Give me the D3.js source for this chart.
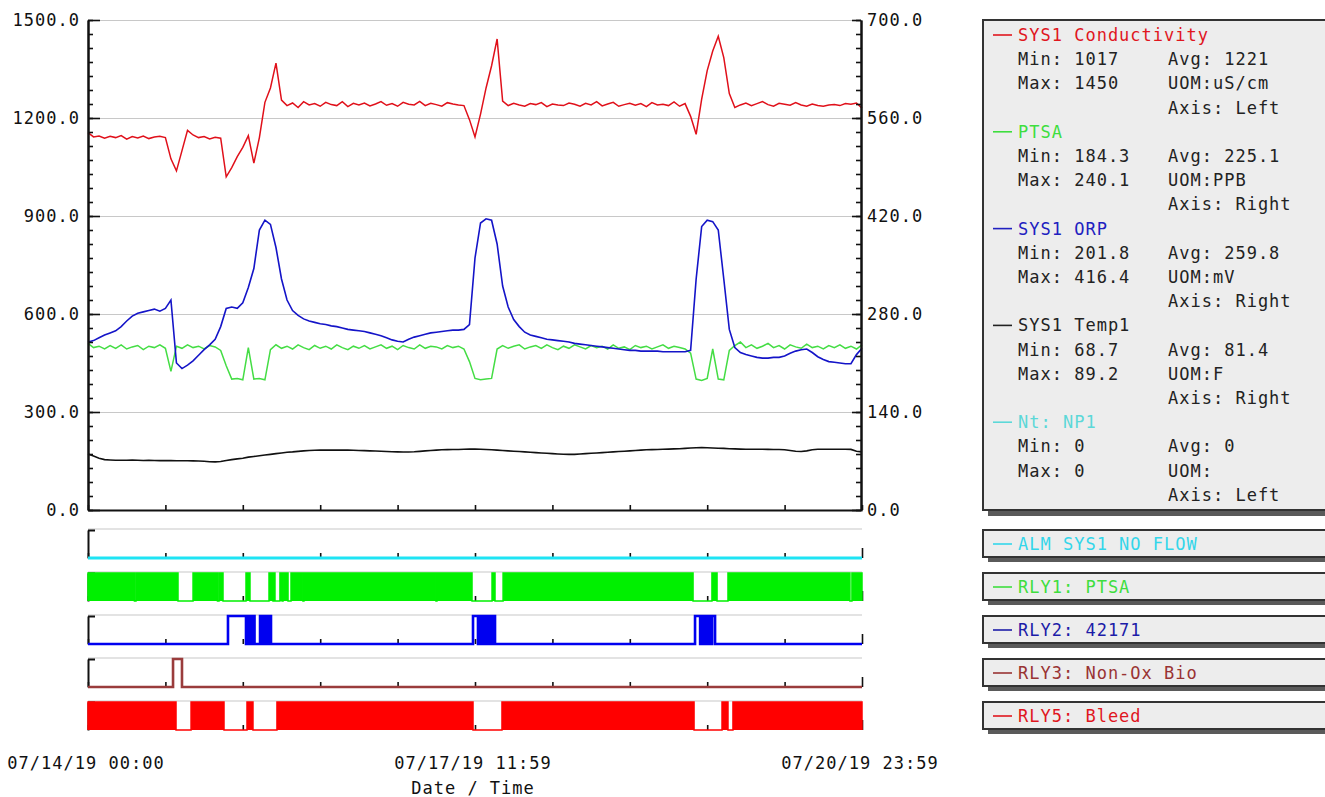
<!DOCTYPE html>
<html><head><meta charset="utf-8">
<script src="https://cdn.jsdelivr.net/npm/d3@7"></script>
<style>body{margin:0;background:#fff}svg{display:block}text{font-family:"DejaVu Sans Mono",monospace;}</style>
</head><body><svg id="c" width="1325" height="797"></svg>
<script>
// ---------- data ----------
const startTime = new Date(2019, 6, 14, 0, 0);
const sampleStepDays = 0.05; // one sample every 72 minutes
const xLabels = ["07/14/19 00:00", "07/17/19 11:59", "07/20/19 23:59"];
const xLabelDays = [0, 3.5, 7];
const xTitle = "Date / Time";
const leftTicks = [0, 300, 600, 900, 1200, 1500];
const rightTicks = [0, 140, 280, 420, 560, 700];

const conductivity = [1155,1142,1145,1138,1144,1140,1146,1135,1143,1139,1145,1137,1142,1144,1140,1075,1038,1100,1162,1148,
1140,1143,1136,1141,1138,1020,1048,1082,1110,1146,1062,1140,1248,1292,1368,1255,1238,1246,1232,1250,
1240,1244,1236,1248,1241,1238,1250,1235,1245,1240,1246,1237,1243,1250,1239,1244,1236,1248,1242,1240,
1251,1238,1245,1241,1236,1247,1243,1240,1238,1195,1142,1212,1292,1360,1442,1252,1238,1245,1240,1236,
1244,1241,1247,1235,1243,1240,1238,1246,1242,1236,1245,1240,1250,1237,1243,1248,1236,1241,1245,1239,
1244,1235,1247,1240,1242,1238,1249,1236,1244,1205,1150,1258,1345,1405,1450,1385,1275,1232,1240,1246,
1238,1244,1250,1241,1236,1245,1242,1239,1247,1240,1236,1243,1238,1236,1240,1241,1238,1244,1242,1246,1230];

const ptsa = [238,232,234,230,235,231,236,230,233,235,229,234,232,236,231,198,234,231,236,232,
234,230,235,233,228,206,187,188,186,232,187,188,186,229,236,231,234,230,236,232,
229,235,231,234,230,236,232,229,234,231,235,230,233,236,231,234,229,235,232,230,
236,231,234,233,230,235,232,234,230,212,188,186,187,188,230,235,231,234,236,230,
233,235,231,236,232,229,234,231,236,233,230,235,232,234,230,236,231,233,229,235,
232,234,230,233,236,231,234,232,230,224,187,185,188,230,187,186,228,235,240,232,
236,231,234,238,232,235,230,236,233,231,237,232,234,230,235,232,236,231,234,230,236];

const orp = [240,242,246,250,253,256,262,270,277,281,283,285,287,284,288,300,210,202,207,213,
221,229,236,244,262,288,290,288,296,318,345,400,414,408,375,330,300,285,278,273,
270,268,266,265,263,262,260,258,257,256,255,253,251,249,246,243,241,240,244,247,
249,251,253,254,255,256,257,257,258,265,360,410,416,414,380,320,290,272,262,254,
250,248,246,244,243,242,241,240,238,237,236,235,234,233,232,231,230,229,228,228,
227,227,227,227,226,226,226,226,226,228,330,405,414,412,400,330,258,232,225,222,
220,218,217,217,218,218,220,224,227,229,230,225,219,215,212,211,210,209,209,222,231];

const temp1 = [80,77,74,72,71.5,71,71,71,71.2,71,70.8,71,70.8,70.6,70.6,70.5,70.4,70.4,70.3,70.2,
70,69.6,69,68.7,69.2,70.8,72,73,74,75.5,76.5,77.5,78.5,79.5,80.5,81.5,82.5,83,83.8,84.5,
85,85.3,85.5,85.5,85.5,85.6,85.5,85.5,85.3,85,84.8,84.5,84.2,84,83.6,83.3,83,82.8,82.8,83.2,
83.8,84.5,85,85.5,86,86.2,86.5,86.5,86.7,87,87,86.8,86.5,86,85.5,85,84.5,84,83.5,83,
82.5,82,81.5,81,80.5,80,79.6,79.4,79.5,80,80.5,81,81.5,82,82.5,83,83.5,84,84.5,85,
85.5,86,86.3,86.5,86.8,87,87.3,87.6,88,88.5,89,89.2,89,88.6,88.2,88,87.6,87.3,87,86.8,
86.8,86.8,86.8,86.6,86.5,86.5,86,85,84,83.5,84.5,86,86.8,86.8,86.8,86.8,86.8,86.8,86.6,84,83];

// digital channels: ON intervals [startDay, endDay]
const almNoFlowOn = [];
const rly1On = [[0,0.420],[0.434,0.814],[0.950,1.171],[1.185,1.221],[1.429,1.465],[1.637,1.673],[1.682,1.691],
  [1.736,1.755],[1.764,1.809],[1.836,1.944],[1.953,3.147],[3.156,3.473],[3.654,3.681],[3.754,5.472],
  [5.643,5.689],[5.788,6.891],[6.909,7]];
const rly2On = [[1.266,1.429],[1.443,1.456],[1.470,1.483],[1.492,1.506],[1.556,1.574],[1.583,1.596],[1.605,1.619],
  [1.628,1.641],[1.646,1.655],
  [3.482,3.527],[3.536,3.550],[3.559,3.572],[3.581,3.595],[3.604,3.618],[3.627,3.640],[3.649,3.663],[3.672,3.681],
  [5.490,5.536],[5.545,5.558],[5.567,5.581],[5.590,5.603],[5.612,5.626],[5.644,5.671]];
const rly3On = [[0.769,0.850]];
const rly5On = [[0,0.796],[0.932,1.230],[1.438,1.492],[1.709,3.482],[3.744,5.481],[5.734,5.788],[5.833,7]];

const legendSeries = [
  {name:"SYS1 Conductivity", color:"#e0161e", min:"1017", max:"1450", avg:"1221", uom:"uS/cm", axis:"Left"},
  {name:"PTSA", color:"#3ede3e", min:"184.3", max:"240.1", avg:"225.1", uom:"PPB", axis:"Right"},
  {name:"SYS1 ORP", color:"#2020c0", min:"201.8", max:"416.4", avg:"259.8", uom:"mV", axis:"Right"},
  {name:"SYS1 Temp1", color:"#222222", min:"68.7", max:"89.2", avg:"81.4", uom:"F", axis:"Right"},
  {name:"Nt: NP1", color:"#5cd8d8", min:"0", max:"0", avg:"0", uom:"", axis:"Left"}
];
const stripNames = ["ALM SYS1 NO FLOW","RLY1: PTSA","RLY2: 42171","RLY3: Non-Ox Bio","RLY5: Bleed"];
const stripTextColors = ["#33d6ea","#3ede3e","#1c1ca8","#993333","#e0161e"];

// ---------- drawing ----------
const svg = d3.select('#c');
svg.append('rect').attr('width',1325).attr('height',797).attr('fill','#fff');
const dayMs = 864e5;
const tAt = d => new Date(+startTime + d*dayMs);
const x = d3.scaleTime().domain([startTime, tAt(7)]).range([88, 862]);
const yL = d3.scaleLinear().domain([0,1500]).range([510,20]);
const yR = d3.scaleLinear().domain([0,700]).range([510,20]);
const xTickVals = d3.range(0, 11).map(k => tAt(k*0.7));
const fontSize = 17, letterSp = 1;

function styleText(sel){ sel.attr('font-family','"DejaVu Sans Mono",monospace').attr('font-size',fontSize).attr('letter-spacing',letterSp).attr('fill','#111'); }

// gridlines
svg.append('g').attr('transform','translate(88,0)')
  .call(d3.axisLeft(yL).tickValues(leftTicks).tickSize(-773).tickFormat(''))
  .call(g=>{g.select('.domain').remove(); g.selectAll('line').attr('stroke','#c8c8c8').attr('stroke-width',1.2);});

// series lines
const lineOf = (scale) => d3.line().x((d,i)=>x(tAt(i*sampleStepDays))).y(d=>scale(d));
const plot = svg.append('g');
plot.append('path').datum(temp1).attr('d',lineOf(yR)).attr('fill','none').attr('stroke','#111').attr('stroke-width',1.6);
plot.append('path').datum(ptsa).attr('d',lineOf(yR)).attr('fill','none').attr('stroke','#44dd44').attr('stroke-width',1.5);
plot.append('path').datum(orp).attr('d',lineOf(yR)).attr('fill','none').attr('stroke','#1414c8').attr('stroke-width',1.6);
plot.append('path').datum(conductivity).attr('d',lineOf(yL)).attr('fill','none').attr('stroke','#e0101a').attr('stroke-width',1.5);

// left axis
const gl = svg.append('g').attr('transform','translate(88,0)');
gl.call(d3.axisLeft(yR).tickValues(d3.range(0,701,20)).tickSizeInner(-5).tickSizeOuter(0).tickFormat(''));
gl.append('g').call(d3.axisLeft(yL).tickValues(leftTicks).tickSizeInner(-12).tickSizeOuter(0).tickPadding(8).tickFormat(d3.format('.1f')));
gl.selectAll('line').attr('stroke','#111').attr('stroke-width',1.6);
gl.selectAll('.domain').attr('stroke','#111').attr('stroke-width',2);
gl.selectAll('text').call(styleText).attr('dy','0.35em');

// right axis
const gr = svg.append('g').attr('transform','translate(861,0)');
gr.call(d3.axisRight(yR).tickValues(d3.range(0,701,20)).tickSizeInner(-5).tickSizeOuter(0).tickFormat(''));
gr.append('g').call(d3.axisRight(yR).tickValues(rightTicks).tickSizeInner(-9).tickSizeOuter(0).tickPadding(6).tickFormat(d3.format('.1f')));
gr.selectAll('line').attr('stroke','#111').attr('stroke-width',1.6);
gr.selectAll('.domain').attr('stroke','#111').attr('stroke-width',2);
gr.selectAll('text').call(styleText).attr('dy','0.35em');

// bottom axis
const gb = svg.append('g').attr('transform','translate(0,510)');
gb.call(d3.axisBottom(x).tickValues(xTickVals).tickSizeInner(-5).tickSizeOuter(0).tickFormat(''));
gb.selectAll('line').attr('stroke','#111').attr('stroke-width',1.6);
gb.select('.domain').attr('stroke','#111').attr('stroke-width',2);

// strips
const strips = [
  {on: almNoFlowOn, color:'#1ee4f4', fill:false, w:3},
  {on: rly1On, color:'#00f000', fill:true, w:1.5},
  {on: rly2On, color:'#0000f0', fill:false, w:2.6},
  {on: rly3On, color:'#9a3c3c', fill:false, w:2.6},
  {on: rly5On, color:'#ff0000', fill:true, w:1.5}
];
const stripTop0 = 529, stripGap = 43, stripH = 29;
function stepPoints(intervals){
  const pts=[[0,0]];
  intervals.forEach(([a,b])=>{pts.push([a,0],[a,1],[b,1],[b,0]);});
  pts.push([7,0]); return pts;
}
strips.forEach((s,k)=>{
  const top = stripTop0 + k*stripGap, bot = top + stripH;
  const yS = d3.scaleLinear().domain([0,1]).range([bot, top+1]);
  const g = svg.append('g');
  g.append('line').attr('x1',88).attr('x2',862).attr('y1',top).attr('y2',top).attr('stroke','#c8c8c8').attr('stroke-width',1.2);
  const ga = g.append('g').attr('transform','translate(88,0)')
    .call(d3.axisLeft(yS).tickValues([1]).tickSizeInner(-7).tickSizeOuter(0).tickFormat(''));
  ga.selectAll('line,.domain').attr('stroke','#111').attr('stroke-width',2);
  const gt = g.append('g').attr('transform',`translate(0,${bot})`)
    .call(d3.axisBottom(x).tickValues(xTickVals).tickSizeInner(-5).tickSizeOuter(0).tickFormat(''));
  gt.select('.domain').remove();
  gt.selectAll('line').attr('stroke','#111').attr('stroke-width',1.6);
  gt.selectAll('.tick:last-of-type line').attr('y2',-10);
  const pts = stepPoints(s.on);
  if (s.fill) {
    g.append('path').datum(pts).attr('d', d3.area().x(p=>x(tAt(p[0]))).y0(bot).y1(p=>yS(p[1])))
      .attr('fill', s.color);
  }
  g.append('path').datum(pts).attr('d', d3.line().x(p=>x(tAt(p[0]))).y(p=>yS(p[1])))
    .attr('fill','none').attr('stroke', s.color).attr('stroke-width', s.w);
});

// x labels
xLabels.forEach((t,i)=>{
  svg.append('text').attr('x', x(tAt(xLabelDays[i]))-2).attr('y',763).attr('dy','0.35em')
    .attr('text-anchor','middle').text(t).call(styleText);
});
svg.append('text').attr('x', x(tAt(3.5))-2).attr('y',788).attr('dy','0.35em').attr('text-anchor','middle').text(xTitle).call(styleText);

// legend main box
const lx = 983;
svg.append('rect').attr('x',lx+5).attr('y',25).attr('width',400).attr('height',491).attr('fill','#5a5a5a');
svg.append('rect').attr('x',lx).attr('y',20).attr('width',400).attr('height',490).attr('fill','#ededed').attr('stroke','#333').attr('stroke-width',2);
const rowH = 24.2, row0 = 35;
let r = 0;
legendSeries.forEach(s=>{
  const y0 = row0 + r*rowH;
  svg.append('line').attr('x1',993).attr('x2',1012).attr('y1',y0).attr('y2',y0).attr('stroke',s.color).attr('stroke-width',1.6);
  svg.append('text').attr('x',1018).attr('y',y0).attr('dy','0.35em').text(s.name).call(styleText).attr('fill',s.color);
  const rows = [["Min: "+s.min,"Avg: "+s.avg],["Max: "+s.max,"UOM:"+s.uom],["","Axis: "+s.axis]];
  rows.forEach((rw,j)=>{
    const yy = row0 + (r+1+j)*rowH;
    if (rw[0]) svg.append('text').attr('x',1018).attr('y',yy).attr('dy','0.35em').text(rw[0]).call(styleText).attr('fill','#222');
    svg.append('text').attr('x',1168).attr('y',yy).attr('dy','0.35em').text(rw[1]).call(styleText).attr('fill','#222');
  });
  r += 4;
});

// strip legend boxes
stripNames.forEach((n,k)=>{
  const top = 530 + k*stripGap;
  svg.append('rect').attr('x',lx+5).attr('y',top+5).attr('width',400).attr('height',27).attr('fill','#5a5a5a');
  svg.append('rect').attr('x',lx).attr('y',top).attr('width',400).attr('height',27).attr('fill','#ededed').attr('stroke','#333').attr('stroke-width',2);
  const cy = top + 14;
  svg.append('line').attr('x1',993).attr('x2',1012).attr('y1',cy).attr('y2',cy).attr('stroke',stripTextColors[k]).attr('stroke-width',1.6);
  svg.append('text').attr('x',1018).attr('y',cy).attr('dy','0.35em').text(n).call(styleText).attr('fill',stripTextColors[k]);
});
</script>
</body></html>
